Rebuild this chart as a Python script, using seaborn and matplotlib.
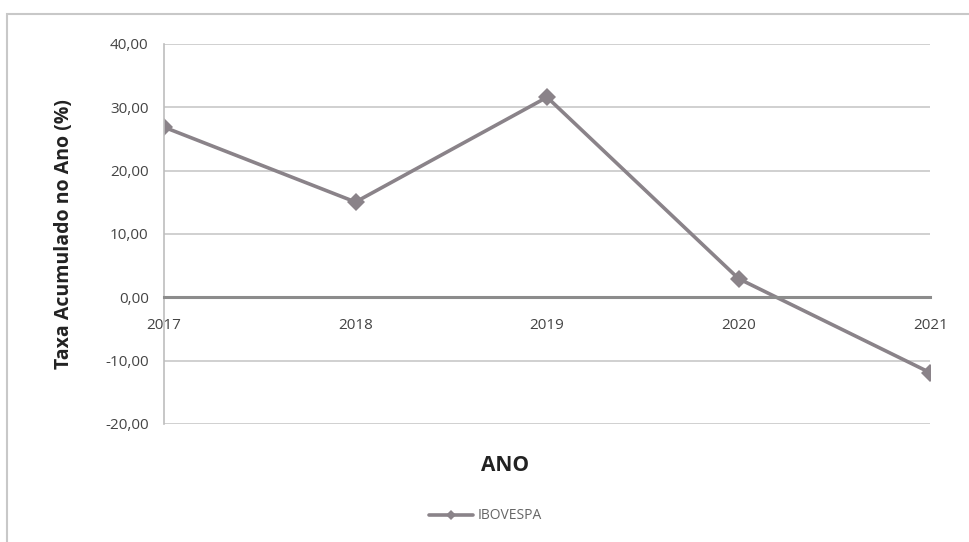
import matplotlib
matplotlib.use("Agg")
import matplotlib.pyplot as plt
import matplotlib.ticker as mticker
from matplotlib.patches import Rectangle
import seaborn as sns
import pandas as pd

anos = [2017, 2018, 2019, 2020, 2021]
ibovespa = [26.86, 15.03, 31.58, 2.92, -11.93]
serie = "IBOVESPA"

sns.set_theme(style="white")
plt.rcParams['font.family'] = ['Open Sans', 'DejaVu Sans']

df = pd.DataFrame({"ANO": anos, "Taxa": ibovespa, "Serie": serie})

fig = plt.figure(figsize=(9.7, 5.42), dpi=100)
ax = fig.add_axes([0.169, 0.218, 0.79, 0.701])

line_color = "#8a8389"
sns.lineplot(data=df, x="ANO", y="Taxa", hue="Serie", palette=[line_color],
             marker="D", markersize=9, linewidth=2.6, markeredgewidth=0,
             ax=ax, legend=True)

ax.set_ylim(-20, 40)
ax.set_xlim(2017, 2021)
ax.set_yticks([-20, -10, 0, 10, 20, 30, 40])
ax.set_xticks(anos)
ax.yaxis.set_major_formatter(mticker.FuncFormatter(lambda v, p: f"{v:.2f}".replace(".", ",")))
ax.xaxis.set_major_formatter(mticker.FuncFormatter(lambda v, p: f"{int(v)}"))
ax.grid(axis="y", color="#c8c8c8", linewidth=1.2)
ax.set_axisbelow(True)

for s in ["top", "right"]:
    ax.spines[s].set_visible(False)
ax.spines["bottom"].set_position(("data", 0))
ax.spines["bottom"].set_color("#8c8c8c")
ax.spines["bottom"].set_linewidth(2.2)
ax.spines["left"].set_color("#bdbdbd")
ax.spines["left"].set_linewidth(1.2)

ax.tick_params(axis="x", colors="#8c8c8c", direction="inout", length=6, width=1.5,
               labelcolor="#444444", labelsize=11, pad=12)
ax.tick_params(axis="y", colors="#bdbdbd", direction="out", length=5, width=1,
               labelcolor="#444444", labelsize=11, pad=6)

ax.set_xlabel("")
ax.set_ylabel("Taxa Acumulado no Ano (%)", fontsize=14, fontweight="bold", color="#222222")
ax.yaxis.set_label_coords(-0.118, 0.5)

fig.text(0.521, 0.142, "ANO", fontsize=15, fontweight="bold", color="#222222",
         ha="center", va="center")

leg = ax.legend(loc="center", bbox_to_anchor=(0.5, 0.048), bbox_transform=fig.transFigure,
                frameon=False, fontsize=10, handlelength=3.2, handletextpad=0.3)
for t in leg.get_texts():
    t.set_color("#666666")
for h in leg.legend_handles:
    h.set_markersize(5)

fig.patches.append(Rectangle((0.007, -0.05), 1.1, 1.024, transform=fig.transFigure,
                             fill=False, edgecolor="#c8c8c8", linewidth=1.5))

fig.savefig("out.png", dpi=100)
